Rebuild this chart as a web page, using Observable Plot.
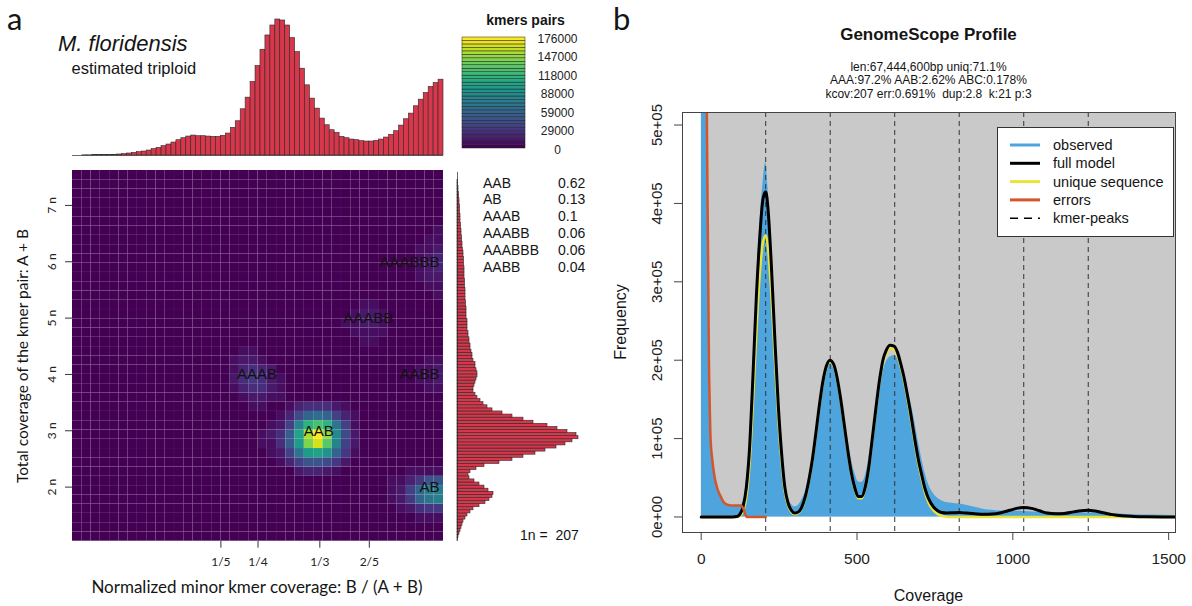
<!DOCTYPE html>
<html><head><meta charset="utf-8">
<script src="https://cdn.jsdelivr.net/npm/d3@7"></script>
<script src="https://cdn.jsdelivr.net/npm/@observablehq/plot@0.6"></script>
<style>
body{margin:0;background:#fff;}
#fig{position:relative;width:1192px;height:606px;overflow:hidden;background:#fff;}
</style></head><body><div id="fig"></div>
<script>
// ================= Panel a data =================
// top histogram: minor kmer coverage ratio B/(A+B), 75 bins over [0, 0.5]
const topHistCounts = [0,0,0.5,0.5,1,1,1.5,2,2,3,4,6,8,10,12,15,19,23,28,33,39,46,52,57,60,58,58,57,56,56,59,66,83,103,139,174,221,269,318,361,391,409,406,391,353,311,261,211,171,141,111,91,76,68,56,52,48,46,43,42,42,44,48,54,62,73,90,109,126,148,168,188,206,218,228];
// right histogram: total coverage (in units of 1n), 120 bins from bottom
const rightHistCounts = [0.5,1,2,3,4,5,6,8,10,13,16,22,28,32,35,36,31,27,22,17,12,11,13,19,27,42,55,66,78,88,99,108,115,121,119,110,100,90,76,66,55,45,35,30,26,23,20,18,16,16,17,18,19,20,20,19,18,18,16,15,15,14,13,13,12,12,11,11,10,10,10,10,9,9,9,9,8.5,8.5,8,8,8,8,7.5,7.5,7.5,7,7,7,7,6.5,6.5,6.5,6,6,5.5,5,5,4.5,4.5,4,4,3.5,3.5,3,3,3,2.5,2.5,2.5,2,2,1.5,1.5,1,1,0.5,0.5,0,0,0];
// heatmap: [ratio bin, coverage bin, kmer pairs] (40 x 40 grid, unlisted cells = 0)
const heatCells = [
 // AAB
 [23,14,8000],[24,14,18000],[25,14,25000],[26,14,25000],[27,14,22000],[28,14,15000],[29,14,7000],
 [22,13,8000],[23,13,20000],[24,13,42000],[25,13,58000],[26,13,64000],[27,13,58000],[28,13,38000],[29,13,18000],[30,13,7000],
 [21,12,7000],[22,12,15000],[23,12,38000],[24,12,80000],[25,12,110000],[26,12,122000],[27,12,112000],[28,12,70000],[29,12,34000],[30,12,10000],
 [20,11,7000],[21,11,12000],[22,11,25000],[23,11,52000],[24,11,102000],[25,11,150000],[26,11,176000],[27,11,145000],[28,11,86000],[29,11,40000],[30,11,14000],
 [20,10,7000],[21,10,10000],[22,10,22000],[23,10,50000],[24,10,96000],[25,10,140000],[26,10,162000],[27,10,130000],[28,10,80000],[29,10,38000],[30,10,12000],
 [21,9,7000],[22,9,15000],[23,9,36000],[24,9,70000],[25,9,95000],[26,9,102000],[27,9,90000],[28,9,60000],[29,9,28000],[30,9,8000],
 [22,8,8000],[23,8,20000],[24,8,36000],[25,8,46000],[26,8,46000],[27,8,40000],[28,8,30000],[29,8,14000],
 [24,7,12000],[25,7,20000],[26,7,20000],[27,7,15000],[28,7,8000],
 // AAAB
 [18,20,7000],[19,20,7000],
 [17,19,7000],[18,19,12000],[19,19,14000],[20,19,10000],
 [17,18,10000],[18,18,18000],[19,18,24000],[20,18,20000],[21,18,12000],
 [17,17,12000],[18,17,22000],[19,17,28000],[20,17,26000],[21,17,14000],[22,17,7000],
 [17,16,10000],[18,16,18000],[19,16,24000],[20,16,22000],[21,16,14000],[22,16,8000],
 [18,15,10000],[19,15,14000],[20,15,14000],[21,15,10000],[22,15,7000],
 [19,14,7000],[20,14,7000],
 // AAABB
 [31,25,7000],[32,25,7000],
 [30,24,8000],[31,24,12000],[32,24,14000],[33,24,9000],
 [29,23,7000],[30,23,10000],[31,23,14000],[32,23,14000],[33,23,10000],
 [30,22,8000],[31,22,10000],[32,22,10000],[33,22,7000],
 [31,21,7000],[32,21,7000],
 // AAABBB
 [39,33,7000],[38,32,7000],[39,32,9000],
 [37,31,7000],[38,31,10000],[39,31,14000],
 [37,30,8000],[38,30,14000],[39,30,20000],
 [37,29,8000],[38,29,14000],[39,29,20000],
 [37,28,7000],[38,28,12000],[39,28,15000],
 [38,27,8000],[39,27,9000],[39,26,7000],
 // AABB
 [38,19,7000],[39,19,8000],
 [37,18,6000],[38,18,10000],[39,18,14000],
 [37,17,6000],[38,17,10000],[39,17,14000],
 [38,16,7000],[39,16,8000],
 // AB
 [36,7,7000],[37,7,8000],[38,7,10000],[39,7,10000],
 [34,6,6000],[35,6,8000],[36,6,18000],[37,6,32000],[38,6,45000],[39,6,48000],
 [34,5,6000],[35,5,14000],[36,5,35000],[37,5,58000],[38,5,72000],[39,5,75000],
 [34,4,6000],[35,4,14000],[36,4,32000],[37,4,55000],[38,4,70000],[39,4,72000],
 [35,3,6000],[36,3,12000],[37,3,22000],[38,3,30000],[39,3,32000],
 [37,2,6000],[38,2,7000],[39,2,8000]
];
const nBins = 40, ratioMax = 0.5, covMin = 1.04, covMax = 7.62;
const colorMax = 176000, nColors = 32;
const colorTicks = [0, 29333, 58667, 88000, 117333, 146667, 176000];
const colorTickLabels = ["0","29000","59000","88000","118000","147000","176000"];
const ratioTicks = [1/5, 1/4, 1/3, 2/5];
const ratioTickLabels = ["1/5","1/4","1/3","2/5"];
const covTicks = [2,3,4,5,6,7];
const smudgeNames = ["AAB","AB","AAAB","AAABB","AAABBB","AABB"];
const smudgeRatio = [1/3, 1/2, 1/4, 2/5, 1/2, 1/2];
const smudgeCov = [3, 2, 4, 5, 6, 4];
const smudgeFrac = ["0.62","0.13","0.1","0.06","0.06","0.04"];

// ================= Panel b data =================
const observed = [[1,4000000],[10,2500000],[17,900000],[19,550000],[22.7,300000],[25,200000],[30,100000],[36,75000],[43,50000],[52,35000],[64,25000],[72,19000],[81,15500],[95,14500],[110,14000],[125,14000],[134,18000],[145,45000],[156,105000],[166,190000],[177,290000],[188,372000],[198,425000],[207,452000],[214,422000],[225,340000],[236,243000],[247,155000],[258,90000],[268,48000],[279,25000],[290,16000],[300,13000],[312,15000],[323,22000],[334,32000],[345,50000],[357,75000],[368,110000],[379,145000],[390,172000],[402,190000],[413,196000],[425,192000],[436,178000],[447,158000],[459,130000],[470,102000],[481,76000],[493,56000],[504,45000],[515,44000],[527,53000],[538,75000],[549,105000],[561,137000],[572,165000],[583,185000],[594,198000],[606,204000],[619,206000],[630,202000],[640,194000],[651,180000],[662,164000],[674,144000],[685,122000],[696,98000],[708,74000],[719,55000],[730,41000],[745,30000],[759,24000],[773,20500],[787,18500],[805,17500],[827,16500],[850,15000],[878,12500],[905,10000],[934,8500],[962,7600],[990,7300],[1035,7000],[1100,6000],[1175,5500],[1250,5000],[1320,4000],[1387,3000],[1450,2500],[1520,2000]];
const fullModel = [[0,0],[100,0],[115,500],[123,3000],[134,12500],[145,38000],[156,93000],[166,179000],[177,281000],[188,357000],[198,405000],[207,415000],[214,395000],[225,322000],[236,230000],[247,145000],[258,81000],[268,39000],[279,17500],[290,8000],[300,5000],[310,6000],[322,12000],[334,26000],[345,46000],[357,74000],[368,107000],[379,142000],[390,172000],[402,193000],[413,200000],[425,195000],[436,178000],[447,152000],[459,118000],[470,86000],[481,58000],[493,37000],[504,26000],[515,26000],[527,39000],[538,64000],[549,100000],[561,140000],[572,174000],[583,200000],[594,213000],[606,219000],[619,218000],[630,210000],[640,196000],[651,178000],[662,155000],[674,128000],[685,100000],[696,75000],[708,53000],[719,35000],[730,23000],[745,13000],[759,8000],[773,5800],[787,5200],[805,5300],[828,5600],[850,5000],[878,4200],[905,3500],[934,3800],[962,5500],[990,8500],[1012,11000],[1035,12000],[1060,11000],[1085,8000],[1110,5000],[1138,4000],[1165,4500],[1195,6500],[1220,8000],[1242,8500],[1265,7500],[1290,5500],[1320,3000],[1350,1500],[1387,700],[1430,200],[1480,0],[1522,0]];
const uniqueSeq = [[0,0],[115,0],[123,1500],[134,7000],[145,26000],[156,72000],[166,145000],[177,235000],[188,310000],[198,350000],[207,359000],[214,345000],[225,285000],[236,205000],[247,128000],[258,70000],[268,33000],[279,14500],[290,6000],[300,3500],[310,4500],[322,10500],[334,24000],[345,44000],[357,72000],[368,105000],[379,140000],[390,170000],[402,191000],[413,198000],[425,193000],[436,176000],[447,150000],[459,116000],[470,84000],[481,56000],[493,35000],[504,24000],[515,24000],[527,37000],[538,62000],[549,98000],[561,138000],[572,171000],[583,196000],[594,209000],[606,215000],[619,214000],[630,206000],[640,192000],[651,174000],[662,150000],[674,123000],[685,95000],[696,70000],[708,48000],[719,30000],[730,18000],[745,8500],[759,3500],[773,1200],[787,400],[805,100],[830,0],[1522,0]];
const errorsFit = [[15,700000],[18,520000],[20.5,400000],[22.7,300000],[24.8,200000],[27,150000],[30,100000],[35,75000],[43,51000],[52,36000],[64,25000],[72,19000],[81,16000],[95,14800],[110,14500],[125,14500],[131,13500],[137,9000],[142,3000],[147,0],[207,0]];
const kmerPeaks = [207, 414, 621, 828, 1035, 1242];
const covTicksB = [0, 500, 1000, 1500];
const freqTicks = [0, 100000, 200000, 300000, 400000, 500000];
const freqTickLabels = ["0e+00","1e+05","2e+05","3e+05","4e+05","5e+05"];
const infoLines = ["len:67,444,600bp uniq:71.1%", "AAA:97.2% AAB:2.62% ABC:0.178%", "kcov:207 err:0.691%  dup:2.8  k:21 p:3"];
const legendLabels = ["observed","full model","unique sequence","errors","kmer-peaks"];
const legendColors = ["#4ea5de","#000000","#ebe33c","#d5552a","#000000"];

// ================= Drawing =================
const fig = document.getElementById("fig");
const SANS = "'Liberation Sans', Arial, sans-serif";
const LATO = "Lato, 'Open Sans', sans-serif";
const baseStyle = {background: "transparent", fontFamily: SANS, overflow: "visible"};
function place(node, left, top) {
  node.style.position = "absolute"; node.style.left = left + "px"; node.style.top = top + "px";
  fig.appendChild(node); return node;
}
const histRed = "#d8364b";

// --- top histogram
const topW = ratioMax / topHistCounts.length;
place(Plot.plot({
  width: 371, height: 160, marginLeft: 0, marginRight: 0, marginTop: 19, marginBottom: 5,
  x: {domain: [0, ratioMax], axis: null}, y: {domain: [0, d3.max(topHistCounts)], axis: null},
  style: baseStyle,
  marks: [
    Plot.rectY(topHistCounts, {x1: (d, i) => i * topW, x2: (d, i) => (i + 1) * topW, y1: 0, y2: d => d, fill: histRed, stroke: "#2a2a2a", strokeWidth: 0.6}),
    Plot.ruleY([0], {stroke: "#2a2a2a", strokeWidth: 0.7})
  ]
}), 72, 0);

// --- heatmap
const binW = ratioMax / nBins, binH = (covMax - covMin) / nBins;
const cellMap = new Map(heatCells.map(([i, j, v]) => [i + "," + j, v]));
const grid = [];
for (let i = 0; i < nBins; i++) for (let j = 0; j < nBins; j++) {
  const v = cellMap.get(i + "," + j) || 0;
  grid.push({x1: i * binW, x2: (i + 1) * binW, y1: covMin + j * binH, y2: covMin + (j + 1) * binH,
             level: Math.min(nColors - 1, Math.floor(v / colorMax * nColors))});
}
const smudges = smudgeNames.map((n, k) => ({name: n, r: smudgeRatio[k], c: smudgeCov[k]}));
place(Plot.plot({
  width: 443, height: 446, marginLeft: 72, marginRight: 0, marginTop: 10, marginBottom: 65.3,
  x: {domain: [0, ratioMax]}, y: {domain: [covMin, covMax]},
  color: {type: "linear", scheme: "viridis", domain: [0, nColors - 1]},
  style: baseStyle,
  marks: [
    Plot.rect(grid, {x1: "x1", x2: "x2", y1: "y1", y2: "y2", fill: "level", stroke: "#ffffff", strokeOpacity: 0.035, strokeWidth: 0.6}),
    Plot.axisX({ticks: ratioTicks, tickFormat: d => ratioTickLabels[ratioTicks.indexOf(d)], tickSize: 7, tickPadding: 9, fontSize: 12, fontFamily: LATO, label: null, stroke: "#333", fill: "#222"}),
    Plot.axisY({ticks: covTicks, tickFormat: () => "", tickSize: 7, label: null, stroke: "#333"}),
    Plot.text(covTicks, {y: d => d, text: d => d + " n", frameAnchor: "left", textAnchor: "middle", dx: -20, rotate: -90, fontSize: 12, fontFamily: LATO, fill: "#222"}),
    Plot.text(smudges.filter(d => d.r < ratioMax), {x: "r", y: "c", text: "name", textAnchor: "middle", dx: -1, fontSize: 15, fill: "#111"}),
    Plot.text(smudges.filter(d => d.r >= ratioMax), {x: "r", y: "c", text: "name", textAnchor: "end", dx: -4, fontSize: 15, fill: "#111"})
  ]
}), 0, 160);

// --- right histogram
const rW = (covMax - covMin) / rightHistCounts.length;
place(Plot.plot({
  width: 130, height: 446, marginLeft: 0, marginRight: 9, marginTop: 10, marginBottom: 65.3,
  x: {domain: [0, 121], axis: null}, y: {domain: [covMin, covMax], axis: null},
  style: baseStyle,
  marks: [
    Plot.rectX(rightHistCounts, {y1: (d, i) => covMin + i * rW, y2: (d, i) => covMin + (i + 1) * rW, x1: 0, x2: d => d, fill: histRed, stroke: "#2a2a2a", strokeWidth: 0.6}),
    Plot.ruleX([0], {y1: covMin + 0.6 * rW, y2: covMax - 0.6 * rW, stroke: "#2a2a2a", strokeWidth: 0.7})
  ]
}), 457, 160);

// --- colour key
const levels = d3.range(nColors);
place(Plot.plot({
  width: 140, height: 160, marginLeft: 7, marginRight: 70, marginTop: 37, marginBottom: 12,
  x: {domain: [0, 1], axis: null}, y: {domain: [0, colorMax], axis: null},
  color: {type: "linear", scheme: "viridis", domain: [0, nColors - 1]},
  style: baseStyle,
  marks: [
    Plot.rect(levels, {x1: 0, x2: 1, y1: k => k * colorMax / nColors, y2: k => (k + 1) * colorMax / nColors, fill: k => k, stroke: "#222", strokeWidth: 0.5}),
    Plot.text(colorTicks, {y: d => d, text: (d, i) => colorTickLabels[i], frameAnchor: "right", textAnchor: "middle", dx: 32, dy: 1.5, fontSize: 12, fill: "#222"})
  ]
}), 455, 0);

// --- panel b
place(Plot.plot({
  width: 592, height: 606, marginLeft: 82, marginRight: 17, marginTop: 112, marginBottom: 74,
  x: {domain: [-60, 1522]}, y: {domain: [-19800, 516000]},
  style: baseStyle,
  marks: [
    Plot.rect([0], {x1: 0, x2: 1522, y1: 0, y2: 516000, fill: "#c9c9c9"}),
    Plot.areaY(observed, {x: d => d[0], y: d => d[1], fill: "#4ea5de", curve: "monotone-x", clip: true}),
    Plot.ruleX(kmerPeaks, {stroke: "#333", strokeWidth: 1, strokeDasharray: "5,4"}),
    Plot.line(uniqueSeq, {x: d => d[0], y: d => d[1], stroke: "#ebe33c", strokeWidth: 2.5, curve: "monotone-x", clip: true}),
    Plot.line(fullModel, {x: d => d[0], y: d => d[1], stroke: "#000", strokeWidth: 3, curve: "monotone-x", clip: true}),
    Plot.line(errorsFit, {x: d => d[0], y: d => d[1], stroke: "#d5552a", strokeWidth: 2.5, curve: "monotone-x", clip: true}),
    Plot.frame({stroke: "#444", strokeWidth: 1}),
    Plot.axisX({ticks: covTicksB, tickFormat: d => String(d), tickSize: 8, tickPadding: 12, fontSize: 15.5, label: null, stroke: "#444", fill: "#222"}),
    Plot.axisY({ticks: freqTicks, tickFormat: () => "", tickSize: 8, label: null, stroke: "#444"}),
    Plot.text(freqTicks, {y: d => d, text: (d, i) => freqTickLabels[i], frameAnchor: "left", textAnchor: "middle", dx: -25, rotate: -90, fontSize: 15, fill: "#222"})
  ]
}), 600, 0);

// --- overlay text
const svg = d3.select(fig).append("svg").attr("width", 1192).attr("height", 606)
  .style("position", "absolute").style("left", "0px").style("top", "0px").style("overflow", "visible");
function T(s, x, y, o = {}) {
  const t = svg.append("text").attr("x", x).attr("y", y).text(s)
    .attr("font-size", o.size || 12).attr("font-family", o.family || SANS)
    .attr("text-anchor", o.anchor || "start").attr("fill", o.fill || "#151515");
  if (o.weight) t.attr("font-weight", o.weight);
  if (o.italic) t.attr("font-style", "italic");
  if (o.central) t.attr("dominant-baseline", "central");
  if (o.rotate) t.attr("transform", `rotate(${o.rotate},${x},${y})`);
  t.style("white-space", "pre");
  return t;
}
T("a", 7, 30, {size: 31, family: LATO});
T("M. floridensis", 58, 51, {size: 22, italic: true});
T("estimated triploid", 71.5, 74, {size: 16.5});
T("kmers pairs", 525.5, 25, {size: 14, weight: "bold", anchor: "middle"});
smudgeNames.forEach((n, k) => {
  T(n, 483, 187.5 + 16.8 * k, {size: 14});
  T(smudgeFrac[k], 558, 187.5 + 16.8 * k, {size: 14});
});
T("1n =  207", 520, 539.5, {size: 14});
T("Total coverage of the kmer pair: A + B", 22, 356, {size: 15.5, family: LATO, anchor: "middle", central: true, rotate: -90});
T("Normalized minor kmer coverage: B / (A + B)", 257, 593, {size: 17, family: LATO, anchor: "middle"});

T("b", 613, 30, {size: 31, family: LATO});
T("GenomeScope Profile", 928.5, 40, {size: 17, weight: "bold", anchor: "middle"});
infoLines.forEach((s, k) => T(s, 928.5, 70.5 + 13.5 * k, {size: 12, anchor: "middle"}));
T("Frequency", 620, 322, {size: 16, anchor: "middle", central: true, rotate: -90});
T("Coverage", 928.5, 601, {size: 16, anchor: "middle"});

// legend
const lg = svg.append("g");
lg.append("rect").attr("x", 997.5).attr("y", 127.5).attr("width", 176).attr("height", 109).attr("fill", "#fff").attr("stroke", "#333").attr("stroke-width", 1);
legendLabels.forEach((s, k) => {
  const y = 145 + 18.3 * k;
  lg.append("line").attr("x1", 1010).attr("x2", 1040).attr("y1", y).attr("y2", y)
    .attr("stroke", legendColors[k]).attr("stroke-width", k === 4 ? 1.6 : 3)
    .attr("stroke-dasharray", k === 4 ? "8,6" : null);
  T(s, 1053, y + 5, {size: 14.5});
});
</script></body></html>
